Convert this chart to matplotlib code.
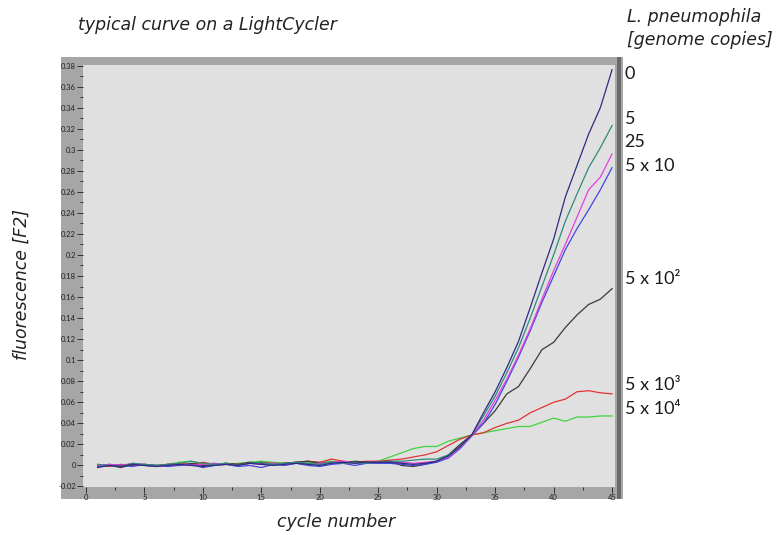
import matplotlib
matplotlib.use("Agg")
import matplotlib.pyplot as plt
from matplotlib.patches import Rectangle
from matplotlib.ticker import MultipleLocator, FuncFormatter
import numpy as np

plt.rcParams['font.family'] = ['Lato', 'DejaVu Sans']

cycles = np.arange(1, 46)

# fluorescence per cycle (1..45)
curve_0 = [-0.002, 0.0, -0.001, 0.001, 0.0, -0.001, 0.0, 0.001, 0.0, -0.001,
           0.0, 0.001, 0.0, 0.002, 0.001, 0.0, 0.001, 0.002, 0.001, 0.0,
           0.002, 0.003, 0.002, 0.003, 0.003,
           0.003, 0.002, 0.001, 0.002, 0.004, 0.009, 0.018, 0.029, 0.05, 0.07,
           0.093, 0.118, 0.15, 0.183, 0.215, 0.255, 0.285, 0.315, 0.34, 0.376]
curve_5 = [0.001, 0.0, -0.001, 0.002, 0.001, 0.0, 0.001, 0.002, 0.004, 0.002,
           0.001, 0.002, 0.0, 0.002, 0.003, 0.001, 0.002, 0.003, 0.002, 0.001,
           0.003, 0.002, 0.003, 0.002, 0.003,
           0.004, 0.004, 0.005, 0.006, 0.006, 0.01, 0.018, 0.029, 0.047, 0.066,
           0.088, 0.112, 0.14, 0.17, 0.2, 0.232, 0.258, 0.283, 0.302, 0.323]
curve_25 = [0.0, 0.001, 0.0, 0.002, 0.001, -0.001, 0.0, 0.001, 0.0, 0.001,
            0.002, 0.001, 0.0, 0.002, 0.001, 0.002, 0.001, 0.003, 0.001, 0.002,
            0.003, 0.004, 0.002, 0.003, 0.003,
            0.003, 0.003, 0.002, 0.003, 0.004, 0.008, 0.017, 0.028, 0.043, 0.062,
            0.082, 0.105, 0.13, 0.158, 0.185, 0.21, 0.236, 0.262, 0.274, 0.296]
curve_50 = [-0.001, 0.001, 0.0, -0.001, 0.001, 0.0, -0.001, 0.0, 0.001, -0.002,
            0.0, 0.001, -0.001, 0.0, -0.002, 0.001, 0.0, 0.002, 0.0, -0.001,
            0.001, 0.002, 0.0, 0.002, 0.002,
            0.002, 0.001, 0.0, 0.001, 0.003, 0.007, 0.016, 0.028, 0.04, 0.058,
            0.08, 0.103, 0.128, 0.155, 0.18, 0.205, 0.225, 0.243, 0.262, 0.283]
curve_500 = [-0.001, 0.0, -0.002, 0.001, 0.0, -0.001, 0.001, 0.0, 0.002, 0.0,
             0.001, 0.002, 0.001, 0.003, 0.002, 0.001, 0.002, 0.003, 0.004, 0.002,
             0.003, 0.002, 0.004, 0.003, 0.003,
             0.004, 0.0, -0.001, 0.001, 0.004, 0.01, 0.02, 0.029, 0.04, 0.052,
             0.068, 0.075, 0.092, 0.11, 0.117, 0.131, 0.143, 0.153, 0.158, 0.168]
curve_5000 = [0.0, -0.001, 0.001, 0.0, 0.001, 0.0, 0.001, 0.002, 0.001, 0.003,
              0.001, 0.002, 0.001, 0.002, 0.003, 0.002, 0.002, 0.003, 0.004, 0.003,
              0.006, 0.004, 0.003, 0.004, 0.004,
              0.005, 0.006, 0.008, 0.01, 0.013, 0.019, 0.025, 0.029, 0.031, 0.036,
              0.04, 0.043, 0.05, 0.055, 0.06, 0.063, 0.07, 0.071, 0.069, 0.068]
curve_50000 = [0.001, 0.0, -0.001, 0.0, 0.001, 0.0, 0.001, 0.003, 0.004, 0.001,
               0.002, 0.001, 0.002, 0.003, 0.004, 0.003, 0.002, 0.003, 0.003, 0.003,
               0.004, 0.003, 0.003, 0.003, 0.004,
               0.008, 0.012, 0.016, 0.018, 0.018, 0.023, 0.026, 0.029, 0.031, 0.033,
               0.035, 0.037, 0.037, 0.041, 0.045, 0.042, 0.046, 0.046, 0.047, 0.047]

curves = [curve_50000, curve_5000, curve_500, curve_50, curve_25, curve_5, curve_0]
colors = ['#3fd43f', '#e03535', '#3a3a3a', '#4545e0', '#e040e0', '#2e8c7c', '#2c2c82']

labels = ['0', '5', '25', '5 x 10', '5 x 10²', '5 x 10³', '5 x 10⁴']
label_y = [0.372, 0.329, 0.307, 0.285, 0.177, 0.076, 0.054]

fig = plt.figure(figsize=(7.8, 5.35), dpi=100)

# grey instrument frame behind the plot
frame = fig.add_axes([61 / 780, 36 / 535, 562 / 780, 442 / 535], zorder=0)
frame.set_facecolor('#a6a6a6')
frame.set_xticks([])
frame.set_yticks([])
for s in frame.spines.values():
    s.set_visible(False)
frame.add_patch(Rectangle((556 / 562, 0), 4 / 562, 1, transform=frame.transAxes,
                          facecolor='#6a6a6a', edgecolor='none'))

ax = fig.add_axes([83 / 780, 48 / 535, 532 / 780, 422 / 535], zorder=1)
ax.set_facecolor('#e0e0e0')
for c, col in zip(curves, colors):
    ax.plot(cycles, c, color=col, lw=0.9)

ax.set_xlim(-0.25, 45.25)
ax.set_ylim(-0.0205, 0.3805)
ax.xaxis.set_major_locator(MultipleLocator(5))
ax.xaxis.set_minor_locator(MultipleLocator(2.5))
ax.yaxis.set_major_locator(MultipleLocator(0.02))
ax.yaxis.set_minor_locator(MultipleLocator(0.01))
ax.yaxis.set_major_formatter(FuncFormatter(lambda v, p: '%g' % round(v, 2)))
ax.tick_params(which='both', direction='out', colors='#202020', labelsize=5.5,
               width=0.6, pad=1)
ax.tick_params(which='major', length=4)
ax.tick_params(which='minor', length=2)
for s in ax.spines.values():
    s.set_visible(False)

for lab, y in zip(labels, label_y):
    ax.text(1.018, y, lab, transform=ax.get_yaxis_transform(), fontsize=13,
            color='#1a1a1a', va='center', ha='left', clip_on=False)

ital = dict(family='DejaVu Sans', style='italic', color='#222222', fontsize=12.5)
fig.text(78 / 780, 1 - 25 / 535, 'typical curve on a LightCycler',
         va='center', ha='left', **ital)
fig.text(627 / 780, 1 - 17 / 535, 'L. pneumophila', va='center', ha='left', **ital)
fig.text(627 / 780, 1 - 40 / 535, '[genome copies]', va='center', ha='left', **ital)
fig.text(22 / 780, 1 - 285 / 535, 'fluorescence [F2]', va='center', ha='center',
         rotation=90, **ital)
fig.text(336 / 780, 1 - 522 / 535, 'cycle number', va='center', ha='center', **ital)

fig.savefig('out.png', dpi=100)
